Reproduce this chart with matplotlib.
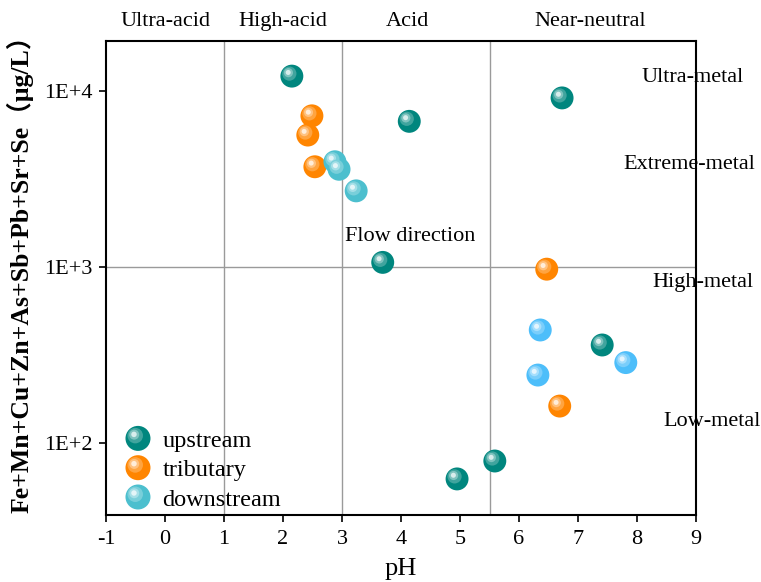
import matplotlib
matplotlib.use("Agg")
import matplotlib.pyplot as plt
import matplotlib.colors as mcolors
from matplotlib.transforms import offset_copy, blended_transform_factory
from matplotlib.legend_handler import HandlerBase
from matplotlib.lines import Line2D
from matplotlib.patches import Circle

plt.rcParams['font.family'] = ['Liberation Serif', 'Noto Sans CJK SC']
plt.rcParams['axes.unicode_minus'] = False

# data
up_ph = [2.15, 4.14, 6.73, 3.69, 7.41, 5.59, 4.95]
up_metal = [12100, 6700, 9100, 1060, 360, 79, 62.5]

trib_ph = [2.49, 2.42, 2.54, 6.47, 6.69]
trib_metal = [7200, 5600, 3700, 970, 162]

down_ph = [2.88, 2.95, 3.24, 6.36, 6.32, 7.81]
down_metal = [3950, 3580, 2700, 438, 243, 286]
down_colors = ['#4CBFCE', '#4CBFCE', '#4CBFCE', '#4DBEFA', '#4DBEFA', '#4DBEFA']

ph_bounds = [1, 3, 5.5]
metal_bound = 1000
acid_names = ['Ultra-acid', 'High-acid', 'Acid', 'Near-neutral']
acid_x = [0.0, 2.0, 4.1, 7.2]
metal_names = ['Ultra-metal', 'Extreme-metal', 'High-metal', 'Low-metal']
metal_x = [8.95, 8.88, 9.12, 9.27]
metal_y = [11960, 3790, 820, 133]

TEAL = '#00867E'
ORANGE = '#FF8500'


def blend(c, f):    # mix a colour with white
    r, g, b = mcolors.to_rgb(c)
    return (r + (1 - r) * f, g + (1 - g) * f, b + (1 - b) * f)


def sphere(ax, x, y, color, d=16.5):    # shiny ball made of stacked circles
    fig = ax.figure
    ax.scatter(x, y, s=d ** 2, c=[color], edgecolors='none', zorder=5)
    r = d / 2
    layers = [(0.62, 0.25, 0.22), (0.4, 0.5, 0.3), (0.22, 0.85, 0.32)]
    for frac, light, off in layers:
        tr = offset_copy(ax.transData, fig=fig, x=-off * r, y=off * r, units='points')
        ax.scatter(x, y, s=(d * frac) ** 2, c=[blend(color, light)], edgecolors='none',
                   transform=tr, zorder=6)


class SphereHandler(HandlerBase):
    def create_artists(self, legend, orig_handle, xdescent, ydescent, width, height,
                       fontsize, trans):
        c = orig_handle.get_markerfacecolor()
        cx = width / 2 - xdescent
        cy = height / 2 - ydescent
        r = 9.0
        arts = [Circle((cx, cy), r, fc=c, ec='none', transform=trans)]
        for frac, light, off in [(0.62, 0.25, 0.22), (0.4, 0.5, 0.3), (0.22, 0.85, 0.32)]:
            arts.append(Circle((cx - off * r, cy + off * r), r * frac, fc=blend(c, light),
                               ec='none', transform=trans))
        return arts


fig = plt.figure(figsize=(7.61, 5.82), dpi=100)
ax = fig.add_axes([0.1393, 0.1151, 0.7753, 0.815])

ax.set_yscale('log')
ax.set_xlim(-1, 9)
ax.set_ylim(10 ** 1.591, 10 ** 4.284)

for b in ph_bounds:
    ax.axvline(b, color='#9a9a9a', lw=1.0, zorder=1)
ax.axhline(metal_bound, color='#9a9a9a', lw=1.0, zorder=1)

for i in range(len(up_ph)):
    sphere(ax, up_ph[i], up_metal[i], TEAL)
for i in range(len(trib_ph)):
    sphere(ax, trib_ph[i], trib_metal[i], ORANGE)
for i in range(len(down_ph)):
    sphere(ax, down_ph[i], down_metal[i], down_colors[i])

# region labels
top = blended_transform_factory(ax.transData, ax.transAxes)
for name, x in zip(acid_names, acid_x):
    ax.text(x, 1.040, name, transform=top, ha='center', va='center', fontsize=16)
for name, x, y in zip(metal_names, metal_x, metal_y):
    ax.text(x, y, name, ha='center', va='center', fontsize=16, clip_on=False, zorder=8)
ax.text(4.15, 1480, 'Flow direction', ha='center', va='center', fontsize=16, zorder=8)

ax.set_xticks(range(-1, 10))
ax.set_yticks([100, 1000, 10000])
ax.set_yticklabels(['1E+2', '1E+3', '1E+4'])
ax.minorticks_off()
ax.tick_params(direction='out', length=5, width=1.2, labelsize=16)
ax.tick_params(axis='x', pad=6)
ax.tick_params(axis='y', pad=5)
for s in ax.spines.values():
    s.set_linewidth(1.5)

ax.set_xlabel('pH', fontsize=19, labelpad=6)
ax.set_ylabel('Fe+Mn+Cu+Zn+As+Sb+Pb+Sr+Se（μg/L）', fontsize=18.5, fontweight='bold')
ax.yaxis.label.set_ha('left')
ax.yaxis.set_label_coords(-0.122, 0.004)

handles = [Line2D([], [], marker='o', ls='', markerfacecolor=TEAL),
           Line2D([], [], marker='o', ls='', markerfacecolor=ORANGE),
           Line2D([], [], marker='o', ls='', markerfacecolor='#4CBFCE')]
ax.legend(handles, ['upstream', 'tributary', 'downstream'], loc='lower left',
          frameon=False, fontsize=17.5, handler_map={Line2D: SphereHandler()},
          handlelength=1.2, handletextpad=0.4, labelspacing=0.3,
          borderaxespad=0.0, bbox_to_anchor=(0.013, -0.011))

fig.savefig('out.png', dpi=100)
